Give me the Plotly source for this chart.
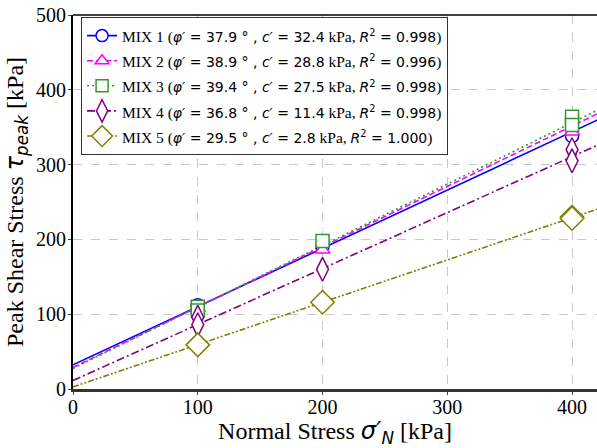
import plotly.graph_objects as go
import math

# ---- data ----
mix_names = ["MIX 1", "MIX 2", "MIX 3", "MIX 4", "MIX 5"]
phi_deg = [37.9, 38.9, 39.4, 36.8, 29.5]
cohesion = [32.4, 28.8, 27.5, 11.4, 2.8]
r2 = [0.998, 0.996, 0.998, 0.998, 1.000]

mix1_x = [100, 200, 400]
mix1_y = [112, 191, 338]
mix2_x = [100, 200, 400]
mix2_y = [108, 186, 344]
mix3_x = [100, 100, 200, 400, 400]
mix3_y = [110, 105, 198, 364, 353]
mix4_x = [100, 100, 200, 400, 400]
mix4_y = [96, 86, 160, 320, 305]
mix5_x = [100, 200, 400, 400]
mix5_y = [59, 116, 230, 228]

fit_x = [0, 420]
x_ticks = [0, 100, 200, 300, 400]
y_ticks = [0, 100, 200, 300, 400, 500]

points = [(mix1_x, mix1_y), (mix2_x, mix2_y), (mix3_x, mix3_y), (mix4_x, mix4_y), (mix5_x, mix5_y)]
colors = ["#0000ff", "#ff00ff", "#2e9a2e", "#800080", "#808000"]
dashes = ["solid", "6px,3px", "2px,3px", "8px,3px,2px,3px", "6px,2px,2px,2px,2px,2px"]
symbols = ["circle", "triangle-up", "square", "diamond-tall", "diamond"]
sizes = [13, 13, 13, 17, 18]

SANS = "DejaVu Sans"
SERIF = "Liberation Serif"
S = f"font-family:{SANS};font-size:14px"
T = "font-size:15.5px"

fig = go.Figure()

# fit lines
for i in range(5):
    slope = math.tan(math.radians(phi_deg[i]))
    fy = [cohesion[i] + slope * x for x in fit_x]
    fig.add_trace(go.Scatter(x=fit_x, y=fy, mode="lines", showlegend=False,
                             line=dict(color=colors[i], width=1.6, dash=dashes[i]),
                             hoverinfo="skip"))

# data markers
for i in range(5):
    px, py = points[i]
    fig.add_trace(go.Scatter(x=px, y=py, mode="markers", showlegend=False,
                             marker=dict(symbol=symbols[i], size=sizes[i], color="white",
                                         line=dict(color=colors[i], width=1.5))))

# legend entries
for i in range(5):
    label = (f"<span style='{T}'>{mix_names[i]} (</span>"
             f"<span style='{S}'><i>φ′</i> = {phi_deg[i]:.1f} ° , "
             f"<i>c′</i> = {cohesion[i]:.1f}</span><span style='{T}'> kPa, </span>"
             f"<span style='{S}'><i>R</i><sup>2</sup> = {r2[i]:.3f}</span><span style='{T}'>)</span>")
    fig.add_trace(go.Scatter(x=[None], y=[None], mode="lines+markers", name=label,
                             line=dict(color=colors[i], width=1.6, dash=dashes[i]),
                             marker=dict(symbol=symbols[i], size=sizes[i] - 1, color="white",
                                         line=dict(color=colors[i], width=1.5))))

fig.update_layout(
    width=597, height=448,
    margin=dict(l=73, r=0, t=15, b=59),
    paper_bgcolor="white", plot_bgcolor="white",
    font=dict(family=SERIF, size=20, color="black"),
    showlegend=True,
    legend=dict(x=0.015, y=0.995, xanchor="left", yanchor="top",
                bgcolor="white", bordercolor="#333333", borderwidth=1.2,
                font=dict(family=SERIF, size=17, color="black"),
                tracegroupgap=0, itemwidth=30),
    xaxis=dict(range=[0, 420], tickvals=x_ticks, ticks="outside", ticklen=3,
               showline=True, linecolor="#333333", linewidth=2.5, mirror=False,
               showgrid=True, gridcolor="#c8c8c8", griddash="dash", gridwidth=1,
               zeroline=False, automargin=False, ticklabelstandoff=-5,
               title=dict(text=f"Normal Stress <span style='font-family:{SANS}'><i>σ′</i><sub><i>N</i></sub></span> [kPa]",
                          standoff=2)),
    yaxis=dict(range=[0, 500], tickvals=y_ticks, ticks="outside", ticklen=3,
               showline=True, linecolor="black", linewidth=2, mirror=False,
               showgrid=True, gridcolor="#c8c8c8", griddash="dash", gridwidth=1,
               zeroline=False, automargin=False, ticklabelstandoff=-2,
               title=dict(text=f"Peak Shear Stress <span style='font-family:{SANS}'><i>τ</i><sub><i>peak</i></sub></span> [kPa]",
                          standoff=6)),
)
# top border
fig.add_shape(type="line", xref="paper", yref="paper", x0=0, x1=1, y0=1, y1=1,
              line=dict(color="black", width=1.5))

fig.write_html("out.html", config={"displayModeBar": False},
               post_script="document.body.style.margin='0';document.body.style.overflow='hidden';")
